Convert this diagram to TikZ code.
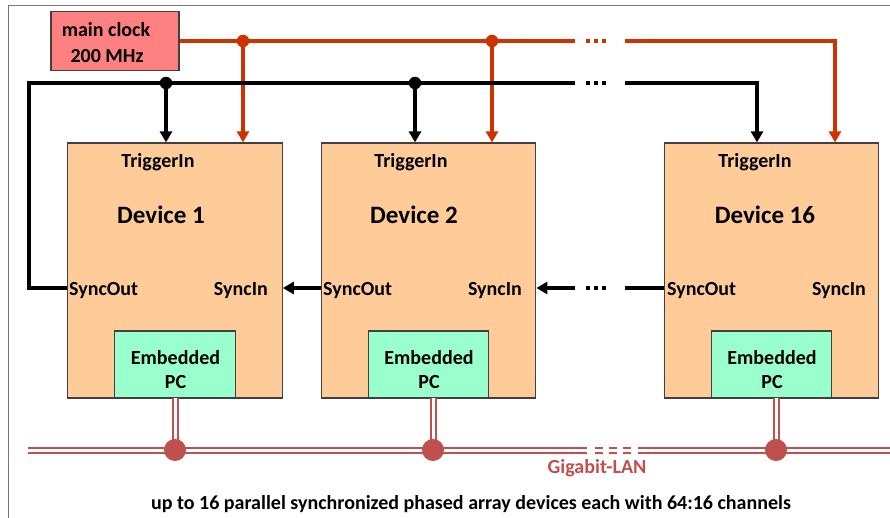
\documentclass[tikz,border=0pt]{standalone}
\usepackage{fontspec}
\setmainfont{Carlito}
\usetikzlibrary{arrows.meta}
\definecolor{clockfill}{RGB}{255,128,128}
\definecolor{devfill}{RGB}{255,204,153}
\definecolor{pcfill}{RGB}{153,255,204}
\definecolor{clkred}{RGB}{204,51,0}
\definecolor{lanred}{RGB}{192,80,77}
\definecolor{boxline}{RGB}{64,64,64}
\definecolor{framegray}{RGB}{120,120,120}
\begin{document}
\begin{tikzpicture}[x=1pt,y=-1pt,
  clockbox/.style={draw=boxline, line width=1.4pt, fill=clockfill, minimum width=128pt, minimum height=59pt, inner sep=0pt},
  devbox/.style={draw=boxline, line width=1.2pt, fill=devfill, minimum width=214.5pt, minimum height=255pt, inner sep=0pt},
  pcbox/.style={draw=boxline, line width=1.2pt, fill=pcfill, minimum width=120.5pt, minimum height=67pt, inner sep=0pt},
  lbl/.style={font=\fontsize{20}{24}\selectfont\bfseries, inner sep=0pt},
  devlbl/.style={font=\fontsize{25}{30}\selectfont\bfseries, inner sep=0pt, anchor=base},
  clkline/.style={clkred, line width=3.3pt},
  trgline/.style={black, line width=3.3pt},
  tip/.style={-{Triangle[width=12pt,length=11pt]}},
  dots3/.style={dash pattern=on 4pt off 4pt},
  lanline/.style={lanred, line width=2pt, double=white, double distance=3pt},
  landash/.style={dash pattern=on 8pt off 6pt},
  lanjoint/.style={circle, fill=lanred, minimum size=22pt, inner sep=0pt},
  jdot/.style={circle, minimum size=12.5pt, inner sep=0pt}
]
\useasboundingbox (0,0) rectangle (890,517);
\draw[framegray, line width=1pt] (8,5) rectangle (900,530);

% boxes
\node[clockbox] (clk) at (115,41) {};
\node[devbox] (d1) at (175,270.5) {};
\node[devbox] (d2) at (428.5,270.5) {};
\node[devbox] (d16) at (771.5,270.5) {};
\node[pcbox] (p1) at (175,364.5) {};
\node[pcbox] (p2) at (428.5,364.5) {};
\node[pcbox] (p16) at (771.5,364.5) {};

% texts
\node[lbl, anchor=base] (ck1) at (106,36) {main clock};
\node[lbl, anchor=base] (ck2) at (107,62) {200 MHz};
\foreach \n/\tx/\dx/\ex/\lx/\rx/\num in {1/158/161/175.5/69/268/1, 2/411/414/429/323/522/2, 16/755/765/772/667/866/16}{
  \node[lbl, anchor=base] (ti\n) at (\tx,167) {TriggerIn};
  \node[devlbl] (dl\n) at (\dx,223) {Device \num};
  \node[lbl, anchor=base west] (so\n) at (\lx,295) {SyncOut};
  \node[lbl, anchor=base east] (si\n) at (\rx,295) {SyncIn};
  \node[lbl, anchor=base] (em\n) at (\ex,364) {Embedded};
  \node[lbl, anchor=base] (pc\n) at (\ex,388) {PC};
}

% clock distribution (red)
\coordinate (ra) at (575,41);
\coordinate (rd1) at (586,41);
\coordinate (rd2) at (606,41);
\coordinate (rb) at (625,41);
\coordinate (rc) at (835,41);
\draw[clkline] (clk.east) -- (ra);
\draw[clkline, dots3] (rd1) -- (rd2);
\draw[clkline, tip, line join=miter] (rb) -- (rc) -- (rc |- d16.north);
\node[jdot, fill=clkred] (rj1) at (243,41) {};
\node[jdot, fill=clkred] (rj2) at (492,41) {};
\draw[clkline, tip] (rj1.center) -- (rj1.center |- d1.north);
\draw[clkline, tip] (rj2.center) -- (rj2.center |- d2.north);

% trigger distribution (black)
\coordinate (bo) at (29,288);
\coordinate (bt) at (29,83);
\coordinate (ba) at (575,83);
\coordinate (bd1) at (586,83);
\coordinate (bd2) at (606,83);
\coordinate (bb) at (625,83);
\coordinate (bc) at (757,83);
\draw[trgline, line join=miter] (d1.west |- bo) -- (bo) -- (bt) -- (ba);
\draw[trgline, dots3] (bd1) -- (bd2);
\draw[trgline, tip, line join=miter] (bb) -- (bc) -- (bc |- d16.north);
\node[jdot, fill=black] (bj1) at (166,83) {};
\node[jdot, fill=black] (bj2) at (415,83) {};
\draw[trgline, tip] (bj1.center) -- (bj1.center |- d1.north);
\draw[trgline, tip] (bj2.center) -- (bj2.center |- d2.north);

% sync chain
\coordinate (sa) at (625,288);
\coordinate (sd1) at (606,288);
\coordinate (sd2) at (586,288);
\coordinate (sb) at (575,288);
\draw[trgline, tip] (d2.west |- bo) -- (d1.east |- bo);
\draw[trgline] (d16.west |- bo) -- (sa);
\draw[trgline, dots3] (sd1) -- (sd2);
\draw[trgline, tip] (sb) -- (d2.east |- bo);

% LAN
\coordinate (la) at (28,450);
\coordinate (lb) at (587,450);
\coordinate (lc) at (595,450);
\coordinate (ld) at (631,450);
\coordinate (le) at (638,450);
\coordinate (lf) at (900,450);
\coordinate (v1) at (175,398);
\coordinate (v2) at (433,398);
\coordinate (v16) at (776,398);
\draw[lanline] (la) -- (lb);
\draw[lanline, landash] (lc) -- (ld);
\draw[lanline] (le) -- (lf);
\draw[lanline] (v1) -- (v1 |- la);
\draw[lanline] (v2) -- (v2 |- la);
\draw[lanline] (v16) -- (v16 |- la);
\node[lanjoint] (j1) at (v1 |- la) {};
\node[lanjoint] (j2) at (v2 |- la) {};
\node[lanjoint] (j16) at (v16 |- la) {};
\node[lbl, anchor=base, text=lanred] (gl) at (597,473) {Gigabit-LAN};

\node[anchor=base, inner sep=0pt, font=\fontsize{20}{24}\selectfont\bfseries] (cap) at (471,509) {up to 16 parallel synchronized phased array devices each with 64:16 channels};
\end{tikzpicture}
\end{document}
